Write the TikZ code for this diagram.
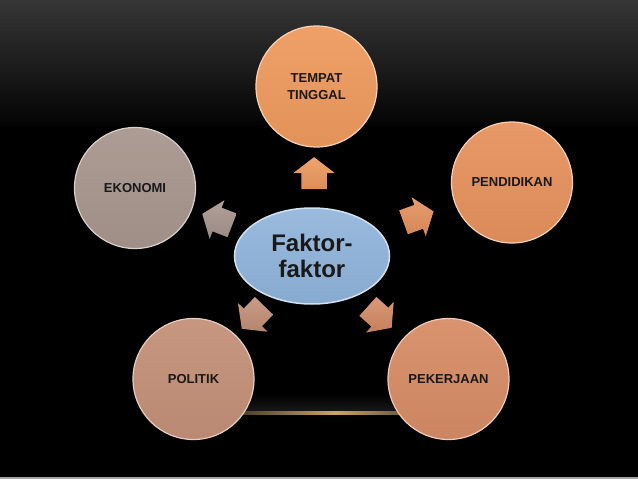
\documentclass[tikz,border=0pt]{standalone}
\usepackage{fontspec}
\setmainfont{Liberation Sans}
\usepackage{tikz}
\usetikzlibrary{shapes.geometric, shapes.arrows, calc}
\definecolor{latartop}{RGB}{54, 54, 54}
\definecolor{latarbawah}{RGB}{4, 4, 4}
\definecolor{emas}{RGB}{200, 165, 110}
\definecolor{jingga}{RGB}{238, 154, 94}
\definecolor{jinggatua}{RGB}{230, 146, 94}
\definecolor{tembaga}{RGB}{214, 140, 102}
\definecolor{coklatmuda}{RGB}{196, 144, 120}
\definecolor{abucoklat}{RGB}{168, 150, 142}
\definecolor{birumuda}{RGB}{142, 179, 218}

\begin{document}
\begin{tikzpicture}[x=1pt, y=-1pt,
    faktor/.style={circle, minimum size=121pt, inner sep=0pt, align=center,
                   font=\fontsize{13}{17.5}\selectfont\bfseries, text=black!90,
                   draw=#1!45!white, line width=1.2pt, top color=#1!94!white, bottom color=#1!95!black},
    pusatgaya/.style={ellipse, minimum width=155pt, minimum height=96pt, align=center,
                      font=\fontsize{24}{26}\selectfont\bfseries, text=black!90,
                      draw=birumuda!40!white, line width=1.5pt, top color=birumuda!90!white, bottom color=birumuda!95!black},
    panah/.style={single arrow, single arrow head extend=8pt, single arrow tip angle=105,
                  inner xsep=0pt, inner ysep=12.5pt, minimum height=32pt,
                  top color=#1!90!white, bottom color=#1!92!black},
    pita/.style={rectangle, inner sep=0pt, anchor=north west}
]
\useasboundingbox (0,0) rectangle (638,479);
\fill[black] (0,0) rectangle (638,479);
\node[pita, minimum width=638pt, minimum height=125pt, top color=latartop, bottom color=latarbawah] (latar) at (0,0) {};
\node[pita, minimum width=260pt, minimum height=18pt, top color=black, bottom color=black!90!white] (sinar) at (200,394) {};
\shade[left color=black, right color=black, middle color=emas] (185,411.8) rectangle (485,414.6);
\fill[gray!70] (0,477) rectangle (638,479);

\node[pusatgaya] (pusat) at (312,256) {Faktor-\\faktor};

\node[faktor=jingga]     (tempat)     at (316.5,86.5) {TEMPAT\\TINGGAL};
\node[faktor=jinggatua]  (pendidikan) at (512,182.5)  {PENDIDIKAN};
\node[faktor=tembaga]    (pekerjaan)  at (448.5,379)  {PEKERJAAN};
\node[faktor=coklatmuda] (politik)    at (193.5,379)  {POLITIK};
\node[faktor=abucoklat]  (ekonomi)    at (135,188)    {EKONOMI};

\node[panah=jingga, rotate=90]      (p1) at ($(pusat)!0.46!(tempat)$) {};
\node[panah=jinggatua, rotate=20]   (p2) at ($(pusat)!0.51!(pendidikan)$) {};
\node[panah=tembaga, rotate=-42]    (p3) at ($(pusat)!0.47!(pekerjaan)$) {};
\node[panah=coklatmuda, rotate=226] (p4) at ($(pusat)!0.47!(politik)$) {};
\node[panah=abucoklat, rotate=159]  (p5) at ($(pusat)!0.51!(ekonomi)$) {};
\end{tikzpicture}
\end{document}
